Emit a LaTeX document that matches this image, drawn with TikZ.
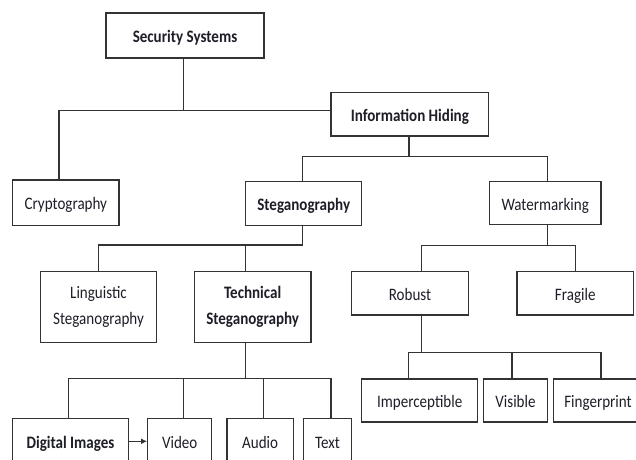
\documentclass[tikz,border=0pt]{standalone}
\usepackage{fontspec}
\setmainfont[FakeStretch=0.86]{Carlito}
\usetikzlibrary{arrows.meta}
\definecolor{ink}{HTML}{1E1E28}
\definecolor{edge}{HTML}{333333}
\tikzset{
  box/.style={draw=edge, line width=1.3pt, fill=white, text=ink, inner sep=0pt,
    align=center, font=\fontsize{17.5}{26}\selectfont},
  one/.style={text height=14.5pt, text depth=0.5pt},
  head/.style={font=\bfseries\fontsize{17.5}{26}\selectfont},
  link/.style={draw=edge, line width=1.2pt},
}
\begin{document}
\begin{tikzpicture}[x=1pt, y=-1pt]
  \useasboundingbox (0,0) rectangle (636,459);
  \fill[white] (0,0) rectangle (636,459);
  \clip (0,0) rectangle (636,459);

  % bus levels
  \coordinate (b1) at (0,110.7);
  \coordinate (b2) at (0,156.7);
  \coordinate (b3) at (0,245);
  \coordinate (b4) at (0,378.3);
  \coordinate (b5) at (0,245.7);
  \coordinate (b6) at (0,352.7);

  % boxes
  \node[box, one, head, minimum width=158pt, minimum height=45pt] (sec) at (185,35.5) {Security Systems};
  \node[box, one, head, minimum width=157.7pt, minimum height=43.3pt] (info) at (409.85,114.35) {Information Hiding};
  \node[box, one, minimum width=106.3pt, minimum height=45.7pt] (crypto) at (65.85,202.85) {Cryptography};
  \node[box, one, head, minimum width=116pt, minimum height=44pt] (steg) at (303.7,203.7) {Steganography};
  \node[box, one, minimum width=111.7pt, minimum height=42.6pt] (water) at (545.15,203) {Watermarking};
  \node[box, minimum width=116.4pt, minimum height=70.6pt] (ling) at (98.5,307) {Linguistic\\Steganography};
  \node[box, head, minimum width=116.7pt, minimum height=70.6pt] (tech) at (252.65,307) {Technical\\Steganography};
  \node[box, one, minimum width=116.6pt, minimum height=43.3pt] (robust) at (410,293.35) {Robust};
  \node[box, one, minimum width=116.5pt, minimum height=43.3pt] (fragile) at (575.25,293.35) {Fragile};
  \node[box, one, minimum width=116pt, minimum height=43pt] (imperc) at (419.7,400.5) {Imperceptible};
  \node[box, one, minimum width=64.4pt, minimum height=43pt] (visible) at (515.5,400.5) {Visible};
  \node[box, one, minimum width=89pt, minimum height=43pt] (finger) at (598,400.5) {Fingerprint};
  \node[box, one, head, minimum width=115.6pt, minimum height=46pt] (digital) at (70.5,441.3) {Digital Images};
  \node[box, one, minimum width=64pt, minimum height=46pt] (video) at (179.7,441.3) {Video};
  \node[box, one, minimum width=66.3pt, minimum height=46pt] (audio) at (260.15,441.3) {Audio};
  \node[box, one, minimum width=48.4pt, minimum height=46pt] (text) at (327.5,441.3) {Text};

  % Security Systems -> Cryptography, Information Hiding
  \draw[link] ([xshift=-1.7pt]sec.south) -- ([xshift=-1.7pt]sec.south |- b1);
  \draw[link] ([xshift=-6.85pt]crypto.north) |- (info.west |- b1);

  % Information Hiding -> Steganography, Watermarking
  \draw[link] ([xshift=-0.85pt]info.south) -- ([xshift=-0.85pt]info.south |- b2);
  \draw[link] ([xshift=-1pt]steg.north) |- ([xshift=2.5pt]water.north |- b2) -- ([xshift=2.5pt]water.north);

  % Steganography -> Linguistic, Technical
  \draw[link] (ling.north) |- ([xshift=-1pt]steg.south |- b3) -- ([xshift=-1pt]steg.south);
  \draw[link] ([xshift=-7pt]tech.north) -- ([xshift=-7pt]tech.north |- b3);

  % Technical Steganography -> carriers
  \draw[link] ([xshift=-7pt]tech.south) -- ([xshift=-7pt]tech.south |- b4);
  \draw[link] ([xshift=-2.2pt]digital.north) |- ([xshift=3.5pt]text.north |- b4) -- ([xshift=3.5pt]text.north);
  \draw[link] ([xshift=3.6pt]video.north) -- ([xshift=3.6pt]video.north |- b4);
  \draw[link] ([xshift=3.2pt]audio.north) -- ([xshift=3.2pt]audio.north |- b4);
  \draw[link, -{Latex[length=6pt,width=6pt]}] (digital.east) -- (video.west);

  % Watermarking -> Robust, Fragile
  \draw[link] ([xshift=2.5pt]water.south) -- ([xshift=2.5pt]water.south |- b5);
  \draw[link] ([xshift=11.3pt]robust.north) |- (fragile.north |- b5) -- (fragile.north);

  % Robust -> Imperceptible, Visible, Fingerprint
  \draw[link] ([xshift=11.3pt]robust.south) -- ([xshift=11.3pt]robust.south |- b6);
  \draw[link] ([xshift=-11pt]imperc.north) |- ([xshift=3pt]finger.north |- b6) -- ([xshift=3pt]finger.north);
  \draw[link] ([xshift=-3.5pt]visible.north) -- ([xshift=-3.5pt]visible.north |- b6);
\end{tikzpicture}
\end{document}
